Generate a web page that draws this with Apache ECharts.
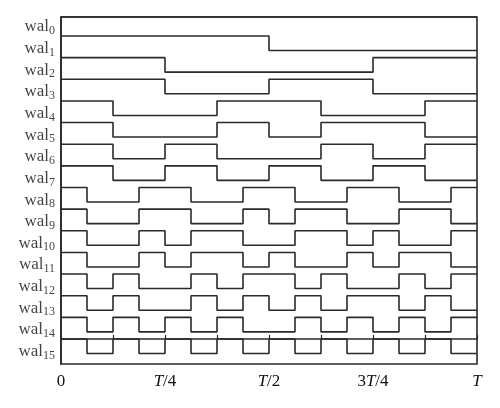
<!DOCTYPE html>
<html>
<head>
<meta charset="utf-8">
<script src="https://cdn.jsdelivr.net/npm/echarts@6/dist/echarts.min.js"></script>
<style>html,body{margin:0;padding:0;background:#fff}#c{width:500px;height:408px}</style>
</head>
<body>
<div id="c"></div>
<script>
// Walsh functions (sequency order), sign per T/16 segment
const wal0  = [ 1, 1, 1, 1, 1, 1, 1, 1, 1, 1, 1, 1, 1, 1, 1, 1];
const wal1  = [ 1, 1, 1, 1, 1, 1, 1, 1,-1,-1,-1,-1,-1,-1,-1,-1];
const wal2  = [ 1, 1, 1, 1,-1,-1,-1,-1,-1,-1,-1,-1, 1, 1, 1, 1];
const wal3  = [ 1, 1, 1, 1,-1,-1,-1,-1, 1, 1, 1, 1,-1,-1,-1,-1];
const wal4  = [ 1, 1,-1,-1,-1,-1, 1, 1, 1, 1,-1,-1,-1,-1, 1, 1];
const wal5  = [ 1, 1,-1,-1,-1,-1, 1, 1,-1,-1, 1, 1, 1, 1,-1,-1];
const wal6  = [ 1, 1,-1,-1, 1, 1,-1,-1,-1,-1, 1, 1,-1,-1, 1, 1];
const wal7  = [ 1, 1,-1,-1, 1, 1,-1,-1, 1, 1,-1,-1, 1, 1,-1,-1];
const wal8  = [ 1,-1,-1, 1, 1,-1,-1, 1, 1,-1,-1, 1, 1,-1,-1, 1];
const wal9  = [ 1,-1,-1, 1, 1,-1,-1, 1,-1, 1, 1,-1,-1, 1, 1,-1];
const wal10 = [ 1,-1,-1, 1,-1, 1, 1,-1,-1, 1, 1,-1, 1,-1,-1, 1];
const wal11 = [ 1,-1,-1, 1,-1, 1, 1,-1, 1,-1,-1, 1,-1, 1, 1,-1];
const wal12 = [ 1,-1, 1,-1,-1, 1,-1, 1, 1,-1, 1,-1,-1, 1,-1, 1];
const wal13 = [ 1,-1, 1,-1,-1, 1,-1, 1,-1, 1,-1, 1, 1,-1, 1,-1];
const wal14 = [ 1,-1, 1,-1, 1,-1, 1,-1,-1, 1,-1, 1,-1, 1,-1, 1];
const wal15 = [ 1,-1, 1,-1, 1,-1, 1,-1, 1,-1, 1,-1, 1,-1, 1,-1];
const waves = [wal0, wal1, wal2, wal3, wal4, wal5, wal6, wal7, wal8, wal9, wal10, wal11, wal12, wal13, wal14, wal15];
const waveIndex = [0,1,2,3,4,5,6,7,8,9,10,11,12,13,14,15];
const xTickLabels = ['0', 'T/4', 'T/2', '3T/4', 'T'];

const FONT = 'Liberation Serif';
const INK = '#2a2a2a';
const TXT = '#111';
const Y_MAX = 14.878, Y_MIN = -1.155, AMP = 0.67;

const series = [];
waves.forEach(function (w, k) {
  const high = Math.min(15 - k, Y_MAX);
  const pts = w.map(function (s, i) { return [i / 16, s > 0 ? high : high - AMP]; });
  pts.push([1, pts[pts.length - 1][1]]);
  series.push({
    type: 'line', step: 'end', data: pts, symbol: 'none', silent: true,
    lineStyle: { color: INK, width: 1.6 }, clip: false, animation: false
  });
});
series.push({
  type: 'scatter', symbolSize: 0, silent: true, clip: false, animation: false,
  data: waveIndex.map(function (k) { return [0, 15 - k - 0.58, k]; }),
  label: {
    show: true, position: 'left', distance: 6,
    formatter: function (p) { return '{m|wal}{s|' + p.value[2] + '}'; },
    rich: {
      m: { fontFamily: FONT, fontSize: 17, color: TXT, lineHeight: 20 },
      s: { fontFamily: FONT, fontSize: 12, color: TXT, lineHeight: 9, verticalAlign: 'bottom' }
    }
  }
});

const chart = echarts.init(document.getElementById('c'), null, { renderer: 'canvas' });
chart.setOption({
  animation: false,
  grid: { left: 61, right: 23, top: 17, bottom: 44, show: true, borderColor: INK, borderWidth: 1.6, backgroundColor: 'transparent' },
  xAxis: {
    type: 'value', min: 0, max: 1, interval: 0.125,
    axisLine: { show: true, lineStyle: { color: INK, width: 1.6 } },
    axisTick: { show: true, inside: true, length: 4, lineStyle: { color: INK, width: 1.2 } },
    splitLine: { show: false },
    axisLabel: {
      margin: 9, fontFamily: FONT, fontSize: 17, color: TXT,
      formatter: function (v) {
        const q = v * 4;
        if (Math.abs(q - Math.round(q)) > 1e-6) return '';
        return xTickLabels[Math.round(q)].replace('T', '{i|T}');
      },
      rich: { i: { fontFamily: FONT, fontSize: 17, fontStyle: 'italic', color: TXT } }
    }
  },
  yAxis: {
    type: 'value', min: Y_MIN, max: Y_MAX,
    axisLine: { show: true, lineStyle: { color: INK, width: 1.6 } },
    axisTick: { show: false }, axisLabel: { show: false }, splitLine: { show: false }
  },
  series: series
});
</script>
</body>
</html>
